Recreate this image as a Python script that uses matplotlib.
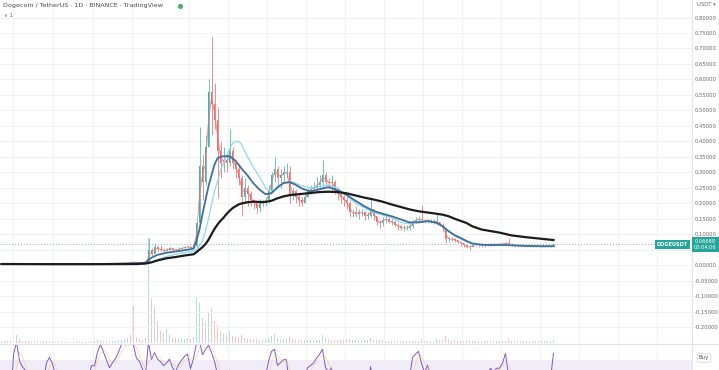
import numpy as np
import pandas as pd
import matplotlib
matplotlib.use("Agg")
import matplotlib.pyplot as plt
from matplotlib.lines import Line2D
from matplotlib.ticker import FuncFormatter

# ---------------- data (one bar ~ 4.7 days) ----------------
close = [0.0026, 0.0026, 0.0025, 0.0025, 0.0027, 0.0041, 0.0036, 0.0034, 0.0033, 0.0031,
         0.0030, 0.0029, 0.0031, 0.0030, 0.0029, 0.0033, 0.0035, 0.0034, 0.0032, 0.0030,
         0.0029, 0.0028, 0.0027, 0.0027, 0.0026, 0.0026, 0.0026, 0.0026, 0.0025, 0.0026,
         0.0027, 0.0027, 0.0029, 0.0035, 0.0034, 0.0033, 0.0032, 0.0033, 0.0034, 0.0036,
         0.0045, 0.0045, 0.0047, 0.0098, 0.0095, 0.0085, 0.0083, 0.0077, 0.0073,
         0.050, 0.037, 0.058, 0.052, 0.050, 0.047, 0.050, 0.054, 0.050, 0.048,
         0.052, 0.055, 0.058, 0.060, 0.056,
         0.062, 0.135, 0.32, 0.27, 0.38, 0.56, 0.52, 0.47, 0.37, 0.33,
         0.34, 0.33, 0.37, 0.33, 0.31, 0.28, 0.22, 0.25, 0.23, 0.21,
         0.20, 0.185, 0.20, 0.20, 0.21, 0.24, 0.29, 0.31, 0.28, 0.29,
         0.30, 0.30, 0.23, 0.24, 0.22, 0.21,
         0.20, 0.22, 0.24, 0.245, 0.25, 0.26, 0.27, 0.29, 0.27, 0.265,
         0.27, 0.24, 0.23, 0.22, 0.21, 0.20, 0.17, 0.17, 0.165, 0.17,
         0.17, 0.16, 0.16, 0.18, 0.16, 0.14, 0.135, 0.145, 0.15, 0.14,
         0.14, 0.13, 0.125, 0.12, 0.12, 0.12, 0.125, 0.14, 0.145, 0.15,
         0.145, 0.14, 0.145, 0.14, 0.14, 0.14, 0.13, 0.12, 0.085, 0.085,
         0.083, 0.080, 0.075, 0.070, 0.065, 0.060, 0.058, 0.065, 0.068, 0.066,
         0.065, 0.063, 0.066, 0.068, 0.067, 0.068, 0.068, 0.069, 0.072, 0.068,
         0.065, 0.063, 0.062, 0.063, 0.061, 0.062, 0.060, 0.061, 0.062, 0.060,
         0.059, 0.060, 0.061, 0.060, 0.06688]

high = [0.0027, 0.0027, 0.0026, 0.0026, 0.0028, 0.0050, 0.0042, 0.0036, 0.0035, 0.0033,
        0.0031, 0.0031, 0.0032, 0.0031, 0.0030, 0.0036, 0.0037, 0.0036, 0.0034, 0.0032,
        0.0031, 0.0030, 0.0028, 0.0028, 0.0027, 0.0027, 0.0027, 0.0027, 0.0026, 0.0027,
        0.0028, 0.0028, 0.0031, 0.0038, 0.0036, 0.0035, 0.0034, 0.0034, 0.0036, 0.0038,
        0.0048, 0.0050, 0.0052, 0.0105, 0.0105, 0.0095, 0.0090, 0.0085, 0.0080,
        0.087, 0.055, 0.072, 0.062, 0.065, 0.053, 0.056, 0.060, 0.056, 0.053,
        0.057, 0.060, 0.063, 0.066, 0.062,
        0.075, 0.14, 0.446, 0.36, 0.42, 0.60, 0.737, 0.59, 0.51, 0.40,
        0.38, 0.36, 0.44, 0.38, 0.34, 0.32, 0.29, 0.28, 0.26, 0.24,
        0.215, 0.20, 0.215, 0.21, 0.22, 0.26, 0.30, 0.35, 0.32, 0.31,
        0.32, 0.33, 0.32, 0.25, 0.245, 0.23,
        0.22, 0.23, 0.25, 0.26, 0.27, 0.285, 0.29, 0.34, 0.30, 0.28,
        0.29, 0.275, 0.245, 0.24, 0.225, 0.22, 0.21, 0.18, 0.19, 0.18,
        0.18, 0.175, 0.17, 0.21, 0.18, 0.16, 0.145, 0.155, 0.16, 0.155,
        0.15, 0.145, 0.135, 0.13, 0.13, 0.13, 0.135, 0.145, 0.155, 0.16,
        0.194, 0.15, 0.15, 0.15, 0.148, 0.168, 0.14, 0.135, 0.12, 0.09,
        0.09, 0.086, 0.082, 0.078, 0.072, 0.066, 0.064, 0.07, 0.072, 0.07,
        0.07, 0.067, 0.07, 0.072, 0.071, 0.072, 0.071, 0.072, 0.076, 0.088,
        0.07, 0.066, 0.065, 0.066, 0.064, 0.065, 0.063, 0.063, 0.064, 0.063,
        0.062, 0.063, 0.063, 0.063, 0.068]

low = [0.0025, 0.0025, 0.0024, 0.0024, 0.0025, 0.0026, 0.0034, 0.0032, 0.0031, 0.0029,
       0.0028, 0.0028, 0.0029, 0.0028, 0.0028, 0.0029, 0.0032, 0.0032, 0.0031, 0.0029,
       0.0028, 0.0027, 0.0026, 0.0026, 0.0025, 0.0025, 0.0025, 0.0025, 0.0024, 0.0025,
       0.0026, 0.0026, 0.0027, 0.0029, 0.0032, 0.0031, 0.0030, 0.0031, 0.0032, 0.0034,
       0.0036, 0.0040, 0.0043, 0.0046, 0.0080, 0.0078, 0.0075, 0.0070, 0.0068,
       0.007, 0.030, 0.035, 0.046, 0.045, 0.043, 0.045, 0.048, 0.046, 0.044,
       0.047, 0.050, 0.053, 0.054, 0.051,
       0.054, 0.06, 0.12, 0.21, 0.26, 0.38, 0.42, 0.44, 0.216, 0.28,
       0.30, 0.30, 0.32, 0.31, 0.28, 0.26, 0.16, 0.20, 0.19, 0.19,
       0.18, 0.168, 0.17, 0.19, 0.19, 0.20, 0.24, 0.27, 0.26, 0.25,
       0.27, 0.28, 0.20, 0.21, 0.20, 0.19,
       0.19, 0.20, 0.22, 0.23, 0.24, 0.24, 0.25, 0.25, 0.26, 0.25,
       0.24, 0.23, 0.21, 0.20, 0.19, 0.18, 0.155, 0.155, 0.155, 0.15,
       0.16, 0.145, 0.15, 0.155, 0.145, 0.13, 0.12, 0.125, 0.135, 0.135,
       0.13, 0.125, 0.115, 0.113, 0.11, 0.113, 0.115, 0.12, 0.135, 0.14,
       0.14, 0.136, 0.137, 0.136, 0.133, 0.13, 0.125, 0.11, 0.07, 0.075,
       0.077, 0.075, 0.07, 0.063, 0.058, 0.055, 0.049, 0.057, 0.062, 0.06,
       0.06, 0.06, 0.062, 0.063, 0.063, 0.064, 0.065, 0.066, 0.068, 0.067,
       0.062, 0.06, 0.059, 0.06, 0.058, 0.059, 0.058, 0.058, 0.059, 0.058,
       0.057, 0.058, 0.059, 0.058, 0.059]

volume = [2, 2, 2, 2, 2, 8, 5, 2, 2, 2,
          1, 2, 2, 1, 2, 2, 2, 1, 1, 2,
          1, 1, 1, 1, 1, 2, 1, 1, 1, 1,
          1, 2, 3, 3, 2, 2, 2, 2, 2, 3,
          3, 4, 5, 8, 37, 6, 4, 3, 5,
          105, 45, 36, 22, 12, 10, 14, 8, 6, 5, 5, 4, 4, 5, 4,
          6, 46, 40, 25, 20, 30, 35, 22, 18, 12,
          9, 8, 12, 7, 6, 5, 8, 5, 4, 4,
          3, 4, 3, 3, 3, 5, 7, 9, 5, 4,
          4, 4, 7, 4, 3, 3,
          3, 3, 3, 3, 3, 3, 3, 8, 5, 4,
          3, 3, 3, 3, 3, 4, 4, 3, 3, 3,
          3, 3, 3, 5, 3, 3, 3, 3, 2, 2,
          2, 2, 2, 2, 2, 2, 2, 2, 2, 2,
          5, 2, 2, 2, 2, 4, 3, 3, 7, 4,
          3, 3, 2, 2, 2, 2, 3, 2, 2, 2,
          2, 2, 2, 2, 2, 2, 2, 2, 2, 5,
          2, 2, 2, 2, 2, 2, 2, 2, 2, 2,
          2, 2, 2, 2, 3]

ma_idx = [0, 15, 30, 45, 48, 50, 52, 55, 58, 61, 64, 65, 66, 67, 68, 69, 70, 71, 72, 73,
          74, 75, 76, 77, 78, 79, 80, 82, 84, 86, 88, 90, 92, 94, 96, 98, 100, 103, 106, 109,
          112, 115, 118, 121, 124, 127, 130, 133, 136, 139, 142, 145, 147, 149, 151, 153, 155, 157, 160, 163,
          166, 170, 175, 180, 184]
ma_long = [0.0035, 0.003, 0.003, 0.0035, 0.005, 0.009, 0.015, 0.022, 0.026, 0.031, 0.035, 0.042, 0.050, 0.058, 0.068, 0.082, 0.100, 0.117, 0.131, 0.143,
           0.153, 0.165, 0.175, 0.184, 0.190, 0.196, 0.199, 0.203, 0.205, 0.204, 0.204, 0.208, 0.216, 0.222, 0.226, 0.228, 0.230, 0.233, 0.236, 0.237,
           0.236, 0.232, 0.225, 0.218, 0.212, 0.205, 0.196, 0.188, 0.180, 0.174, 0.170, 0.166, 0.163, 0.158, 0.150, 0.143, 0.136, 0.125, 0.115, 0.110,
           0.105, 0.096, 0.090, 0.085, 0.081]
ma_mid = [0.0035, 0.0035, 0.003, 0.006, 0.008, 0.024, 0.033, 0.040, 0.044, 0.048, 0.053, 0.080, 0.115, 0.165, 0.210, 0.255, 0.290, 0.325, 0.345, 0.350,
          0.352, 0.352, 0.352, 0.345, 0.337, 0.325, 0.312, 0.290, 0.264, 0.244, 0.229, 0.232, 0.252, 0.265, 0.268, 0.260, 0.248, 0.238, 0.245, 0.252,
          0.242, 0.227, 0.208, 0.190, 0.175, 0.166, 0.158, 0.148, 0.138, 0.138, 0.142, 0.137, 0.126, 0.110, 0.097, 0.088, 0.078, 0.070, 0.066, 0.065,
          0.065, 0.064, 0.062, 0.061, 0.061]
ma_light = [0.003, 0.003, 0.003, 0.005, 0.006, 0.010, 0.018, 0.028, 0.035, 0.040, 0.045, 0.050, 0.062, 0.080, 0.110, 0.150, 0.195, 0.240, 0.270, 0.305,
            0.330, 0.352, 0.375, 0.393, 0.400, 0.400, 0.390, 0.350, 0.315, 0.285, 0.250, 0.234, 0.248, 0.265, 0.272, 0.265, 0.256, 0.250, 0.254, 0.258,
            0.250, 0.225, 0.200, 0.185, 0.170, 0.162, 0.153, 0.138, 0.134, 0.140, 0.145, 0.135, 0.125, 0.108, 0.095, 0.085, 0.075, 0.067, 0.064, 0.064,
            0.064, 0.064, 0.063, 0.062, 0.062]

price_ticks = [-0.20, -0.15, -0.10, -0.05, 0.00, 0.05, 0.10, 0.15, 0.20, 0.25, 0.30,
               0.35, 0.40, 0.45, 0.50, 0.55, 0.60, 0.65, 0.70, 0.75, 0.80]
hidden_tick = 0.05   # covered by the last-price label in the reference

title = "Dogecoin / TetherUS · 1D · BINANCE · TradingView"
symbol = "DOGEUSDT"
countdown = "00:04:06"
currency = "USDT ▾"

# ---------------- layout helpers ----------------
W, H = 719, 370
fig = plt.figure(figsize=(W / 100, H / 100), dpi=100)
fig.patch.set_facecolor("white")


def px_rect(x0, y0, x1, y1):
    return [x0 / W, 1 - y1 / H, (x1 - x0) / W, (y1 - y0) / H]


PANE_R = 692
PANE_B = 343
main_rect = px_rect(0, 0, PANE_R, PANE_B)
ax_vol = fig.add_axes(main_rect)
ax = fig.add_axes(main_rect, sharex=ax_vol)
ax.set_facecolor("none")
ax_rsi = fig.add_axes(px_rect(0, 344, PANE_R, 370), sharex=ax_vol)

UP, DOWN = "#26a69a", "#ef5350"
GRID = "#eef0f4"

n = len(close)
idx = np.arange(n)
c = np.array(close)
o = np.concatenate([[c[0]], c[:-1]])
h = np.maximum(np.array(high), np.maximum(o, c))
l = np.minimum(np.array(low), np.minimum(o, c))
up = c >= o
col = np.where(up, UP, DOWN)

# x limits: bar i at pixel 3*i + 1.5
ax_vol.set_xlim(-0.5, (PANE_R - 1.5) / 3)
ax.set_ylim(-0.2517, 0.8566)

grid_px = [13, 53, 93, 132, 189, 228, 267, 306, 345, 384, 423, 462, 501, 540, 579, 618, 657]
grid_x = [(g - 1.5) / 3 for g in grid_px]

# volume (background)
ax_vol.bar(idx, volume, width=0.4, color=col, alpha=0.35, lw=0)
ax_vol.set_ylim(0, max(volume) * 3.27)
ax_vol.axis("off")


def fmt_price(v, p):
    if abs(v - hidden_tick) < 1e-9:
        return ""
    return f"{v:.5f}"


# grid on main axes
ax.set_yticks(price_ticks)
ax.set_xticks(grid_x)
ax.grid(True, color=GRID, lw=0.6)
ax.set_axisbelow(True)
ax.yaxis.tick_right()
ax.yaxis.set_major_formatter(FuncFormatter(fmt_price))
ax.tick_params(axis="y", length=0, pad=2.0, labelsize=3.8, labelcolor="#666666")
ax.tick_params(axis="x", length=0, labelbottom=False)
for s in ["top", "left", "bottom"]:
    ax.spines[s].set_visible(False)
ax.spines["right"].set_color("#e0e3eb")
ax.spines["right"].set_linewidth(0.8)

# candles
ax.vlines(idx, l, h, colors=col, lw=0.55, alpha=0.85, zorder=2)
body_h = np.maximum(np.abs(c - o), 0.0015)
ax.bar(idx, body_h, bottom=np.minimum(o, c), width=0.55, color=col, lw=0, alpha=0.85, zorder=2)

# moving averages
ma_short = pd.Series(c).rolling(2, min_periods=1).mean()
ax.plot(idx, ma_short, color="#e57373", lw=0.6, alpha=0.85, zorder=3)
ax.plot(ma_idx, ma_light, color="#8fd6ef", lw=0.9, zorder=4)
ax.plot(ma_idx, ma_mid, color="#3f6f9e", lw=1.3, zorder=5)
ax.plot(ma_idx, ma_long, color="#1c1c1c", lw=1.6, zorder=6)

# last price line and labels
last = c[-1]
ax.axhline(last, color="#8fa9a5", lw=0.7, ls=(0, (1, 2)), zorder=1)
ax.annotate(symbol, xy=(1, last), xycoords=ax.get_yaxis_transform(),
            xytext=(-3, 0), textcoords="offset points", ha="right", va="center",
            fontsize=3.6, color="white", fontweight="bold",
            bbox=dict(boxstyle="square,pad=0.35", fc=UP, ec="none"), zorder=10,
            annotation_clip=False)
ax.annotate(f"{last:.5f}\n{countdown}", xy=(1, last), xycoords=ax.get_yaxis_transform(),
            xytext=(9.6, 3.6), textcoords="offset points", ha="center", va="top",
            fontsize=3.6, color="white", linespacing=1.15,
            bbox=dict(boxstyle="square,pad=0.45", fc=UP, ec="none"), zorder=10,
            annotation_clip=False)

# RSI pane
s = pd.Series(c)
d = s.diff()
gain = d.clip(lower=0).ewm(alpha=1 / 4, adjust=False).mean()
loss = (-d.clip(upper=0)).ewm(alpha=1 / 4, adjust=False).mean()
rsi = (100 - 100 / (1 + gain / loss)).fillna(50)
ax_rsi.axhspan(30, 70, color="#7e57c2", alpha=0.1, lw=0)
ax_rsi.plot(idx, rsi, color="#7e57c2", lw=0.7)
ax_rsi.plot(idx, rsi.rolling(3, min_periods=1).mean(), color="#f2c37a", lw=0.5, alpha=0.7)
ax_rsi.set_ylim(54.6, 94.6)
ax_rsi.set_yticks([])
ax_rsi.set_xticks(grid_x)
ax_rsi.grid(True, axis="x", color=GRID, lw=0.6)
ax_rsi.tick_params(axis="x", length=0, labelbottom=False)
for sp in ["top", "left", "bottom"]:
    ax_rsi.spines[sp].set_visible(False)
ax_rsi.spines["right"].set_color("#e0e3eb")
ax_rsi.spines["right"].set_linewidth(0.8)

# pane separator
fig.add_artist(Line2D([0, 1], [1 - 343.5 / H, 1 - 343.5 / H], transform=fig.transFigure,
                      color="#e0e3eb", lw=0.8))

# header texts
fig.text(3 / W, 1 - 5.5 / H, title, fontsize=4.6, color="#4a4a4a", va="center", ha="left")
fig.add_artist(Line2D([180 / W], [1 - 5.5 / H], marker="o", ms=2.6, color="#4caf50",
                      transform=fig.transFigure, lw=0))
fig.text(4 / W, 1 - 15.5 / H, "∨ 1", fontsize=3.8, color="#666666", va="center", ha="left")
fig.text(697 / W, 1 - 4.5 / H, currency, fontsize=3.8, color="#666666", va="center", ha="left")
fig.text(704 / W, 1 - 358 / H, "Buy", fontsize=4, color="#555555", va="center", ha="center",
         bbox=dict(boxstyle="round,pad=0.3", fc="white", ec="#cccccc", lw=0.5))

fig.savefig("out.png", dpi=100, facecolor="white")
